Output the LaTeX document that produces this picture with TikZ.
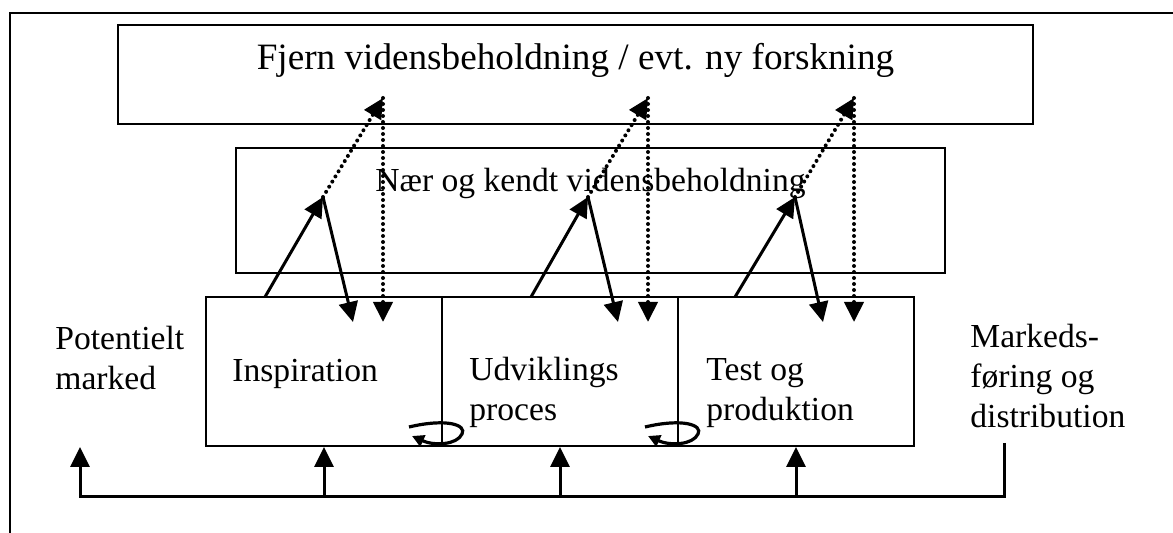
\documentclass[tikz,border=0pt]{standalone}
\usepackage{fontspec}
\setmainfont{Liberation Serif}
\usetikzlibrary{arrows.meta}

\tikzset{
  kasse/.style={draw, line width=1pt, inner sep=0pt},
  tekst/.style={inner sep=0pt, align=left},
  pil/.style={line width=1.5pt, -{Triangle[length=10pt,width=9.5pt]}},
  prik/.style={line width=2pt, line cap=round, dash pattern=on 0pt off 3pt, -{Triangle[length=10pt,width=9.5pt]}},
  slojfe/.style={line width=1.6pt, -{Triangle[length=6pt,width=6pt]}},
}

\begin{document}
\begin{tikzpicture}[x=0.5pt, y=-0.5pt, font=\fontsize{16.8}{20}\selectfont]
      \useasboundingbox (0,0) rectangle (1173,533);

      %ramme
      \draw[line width=1pt] (10,533) -- (10,13) -- (1173,13);

      %kasser
      \node[kasse, minimum width=457.5pt, minimum height=49.5pt] (fjern) at (575.5,74.5) {};
      \node[kasse, minimum width=354.5pt, minimum height=62.5pt] (naer) at (590.5,210.5) {};
      \node[kasse, minimum width=118pt, minimum height=74.5pt] (insp) at (324,371.5) {};
      \node[kasse, minimum width=118pt, minimum height=74.5pt] (udv) at (560,371.5) {};
      \node[kasse, minimum width=118pt, minimum height=74.5pt] (test) at (796,371.5) {};

      %tekster
      \node[tekst, anchor=base, font=\fontsize{18.6}{22}\selectfont] (fjerntekst) at ([yshift=-23pt]fjern.north) {Fjern vidensbeholdning / evt. ny forskning};
      \node[tekst, anchor=base] (naertekst) at ([yshift=-22.5pt]naer.north) {Nær og kendt vidensbeholdning};
      \node[tekst, anchor=base west] (insptekst) at ([shift={(27,86)}]insp.north west) {Inspiration};
      \node[tekst, anchor=base west] (udvtekst) at ([shift={(28,125)}]udv.north west) {Udviklings\\proces};
      \node[tekst, anchor=base west] (testtekst) at ([shift={(29,125)}]test.north west) {Test og\\produktion};
      \node[tekst, anchor=base west] (pot) at (55,390) {Potentielt\\marked};
      \node[tekst, anchor=base west] (mark) at (970,428) {Markeds-\\føring og\\distribution};

      %pile op og ned
      \coordinate (s1) at (265,297);
      \coordinate (t1) at (323,197);
      \coordinate (f1) at (383,98);
      \coordinate (e1) at (353,322);
      \coordinate (g1) at (383,322);
      \draw[pil] (s1) -- (t1);
      \draw[pil] (t1) -- (e1);
      \draw[prik] (t1) -- (f1);
      \draw[prik] (f1) -- (g1);

      \coordinate (s2) at (531,297);
      \coordinate (t2) at (588,197);
      \coordinate (f2) at (648,98);
      \coordinate (e2) at (618,322);
      \coordinate (g2) at (648,322);
      \draw[pil] (s2) -- (t2);
      \draw[pil] (t2) -- (e2);
      \draw[prik] (t2) -- (f2);
      \draw[prik] (f2) -- (g2);

      \coordinate (s3) at (735,297);
      \coordinate (t3) at (795,197);
      \coordinate (f3) at (854,98);
      \coordinate (e3) at (823,322);
      \coordinate (g3) at (854,322);
      \draw[pil] (s3) -- (t3);
      \draw[pil] (t3) -- (e3);
      \draw[prik] (t3) -- (f3);
      \draw[prik] (f3) -- (g3);

      %sloejfer
      \begin{scope}[shift={(udv.south west)}]
        \draw[slojfe] (-32,-20) .. controls (6,-29) and (26,-22) .. (21,-13) .. controls (16,-2) and (-7,-1) .. (-29,-11);
      \end{scope}
      \begin{scope}[shift={(test.south west)}]
        \draw[slojfe] (-32,-20) .. controls (6,-29) and (26,-22) .. (21,-13) .. controls (16,-2) and (-7,-1) .. (-29,-11);
      \end{scope}

      %tilbagekobling
      \coordinate (bund) at (560,497);
      \coordinate (venstre) at (80,447);
      \coordinate (hojre) at (1004,443);
      \draw[pil] (hojre) -- (hojre |- bund) -- (venstre |- bund) -- (venstre);
      \draw[pil] (insp.south |- bund) -- (insp.south);
      \draw[pil] (udv.south |- bund) -- (udv.south);
      \draw[pil] (test.south |- bund) -- (test.south);
\end{tikzpicture}
\end{document}
